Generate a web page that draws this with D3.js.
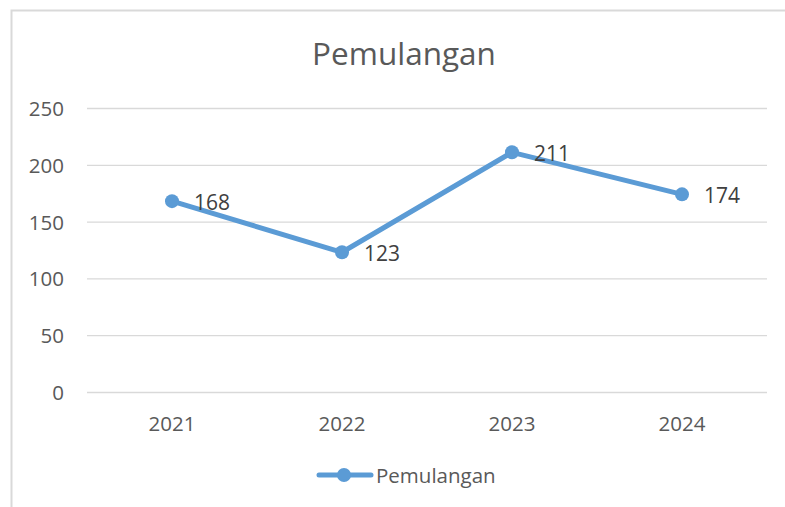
<!DOCTYPE html>
<html>
<head>
<meta charset="utf-8">
<script src="https://cdn.jsdelivr.net/npm/d3@7"></script>
<style>
  body { margin: 0; background: #fff; }
  svg { display: block; font-family: "Open Sans", Lato, sans-serif; }
</style>
</head>
<body>
<svg id="chart" width="785" height="507"></svg>
<script>
// chart data
var title = 'Pemulangan';
var seriesName = 'Pemulangan';
var years = ['2021', '2022', '2023', '2024'];
var values = [168, 123, 211, 174];
var yTicks = [0, 50, 100, 150, 200, 250];

var svg = d3.select('#chart');
var blue = '#5b9bd5';

// outer frame (only top and left show in the crop)
svg.append('path')
  .attr('d', 'M11.5,507 V10.5 H785')
  .attr('fill', 'none').attr('stroke', '#d9d9d9').attr('stroke-width', 2);

var x = d3.scaleBand().domain(years).range([87, 767]);
var y = d3.scaleLinear().domain([0, 250]).range([392, 108]);

// gridlines
svg.append('g').selectAll('line').data(yTicks).enter()
  .append('line')
  .attr('x1', x.range()[0]).attr('x2', x.range()[1])
  .attr('y1', function(d) { return y(d) + 0.5; })
  .attr('y2', function(d) { return y(d) + 0.5; })
  .attr('stroke', '#d9d9d9').attr('stroke-width', 1.3);

// y tick labels
svg.append('g').selectAll('text').data(yTicks).enter()
  .append('text')
  .attr('x', 64).attr('y', function(d) { return y(d) + 8; })
  .attr('text-anchor', 'end')
  .attr('fill', '#595959').attr('font-size', 20.5)
  .text(function(d) { return d; });

// x tick labels
svg.append('g').selectAll('text').data(years).enter()
  .append('text')
  .attr('x', function(d) { return x(d) + x.bandwidth() / 2; })
  .attr('y', 431)
  .attr('text-anchor', 'middle')
  .attr('fill', '#595959').attr('font-size', 20.5)
  .text(function(d) { return d; });

var pts = years.map(function(d, i) { return { year: d, value: values[i] }; });
var cx = function(d) { return x(d.year) + x.bandwidth() / 2; };

svg.append('path').datum(pts)
  .attr('d', d3.line().x(cx).y(function(d) { return y(d.value); }))
  .attr('fill', 'none').attr('stroke', blue).attr('stroke-width', 5)
  .attr('stroke-linejoin', 'round').attr('stroke-linecap', 'round');

svg.append('g').selectAll('circle').data(pts).enter()
  .append('circle')
  .attr('cx', cx).attr('cy', function(d) { return y(d.value); })
  .attr('r', 7).attr('fill', blue);

// data labels, right of each point
svg.append('g').selectAll('text').data(pts).enter()
  .append('text')
  .attr('x', function(d) { return cx(d) + 22; })
  .attr('y', function(d) { return y(d.value) + 9; })
  .attr('fill', '#404040').attr('font-size', 21)
  .text(function(d) { return d.value; });

// title
svg.append('text')
  .attr('x', 404).attr('y', 65)
  .attr('text-anchor', 'middle')
  .attr('fill', '#595959').attr('font-size', 31.5)
  .text(title);

// legend
var lg = svg.append('g');
lg.append('line').attr('x1', 319).attr('x2', 371).attr('y1', 475).attr('y2', 475)
  .attr('stroke', blue).attr('stroke-width', 5).attr('stroke-linecap', 'round');
lg.append('circle').attr('cx', 344).attr('cy', 475).attr('r', 7).attr('fill', blue);
lg.append('text').attr('x', 376).attr('y', 483)
  .attr('fill', '#595959').attr('font-size', 20.5)
  .text(seriesName);
</script>
</body>
</html>
